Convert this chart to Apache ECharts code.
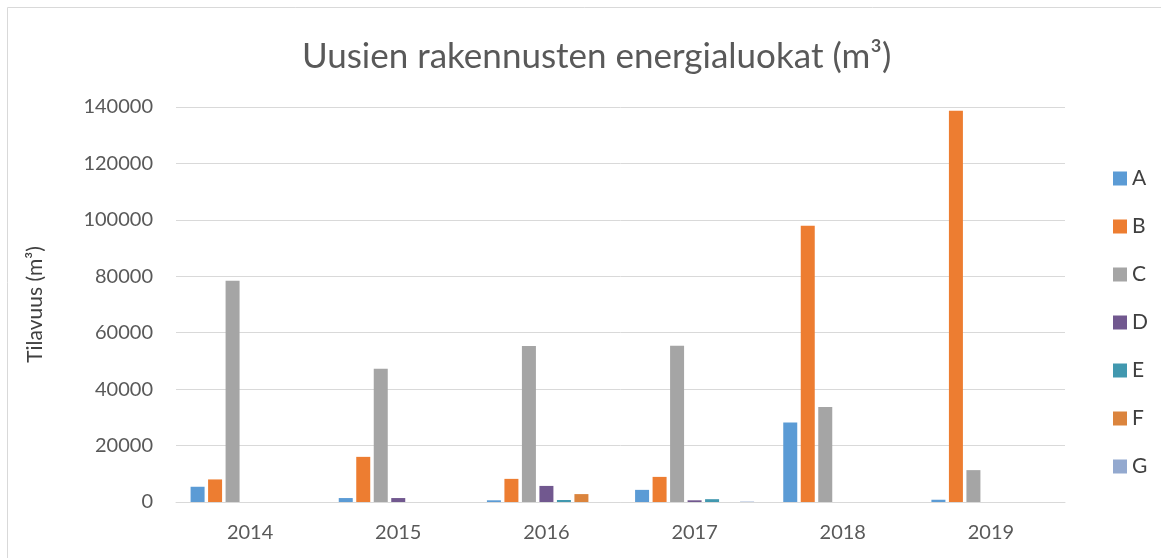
<!DOCTYPE html>
<html>
<head>
<meta charset="utf-8">
<script src="https://cdn.jsdelivr.net/npm/echarts@6/dist/echarts.min.js"></script>
<style>
  html, body { margin: 0; padding: 0; background: #fff; }
  #myChart { width: 1161px; height: 558px; }
</style>
</head>
<body>
<div id="myChart"></div>
<script>
const years = ['2014', '2015', '2016', '2017', '2018', '2019']
const classNames = ['A', 'B', 'C', 'D', 'E', 'F', 'G']
const seriesA = [5400, 1400, 600, 4300, 28200, 800]
const seriesB = [8000, 16000, 8200, 8900, 97900, 138700]
const seriesC = [78400, 47200, 55300, 55400, 33700, 11300]
const seriesD = [0, 1400, 5700, 600, 0, 0]
const seriesE = [0, 0, 700, 1000, 0, 0]
const seriesF = [0, 0, 2800, 0, 0, 0]
const seriesG = [0, 0, 0, 150, 0, 0]
const yTicks = [0, 20000, 40000, 60000, 80000, 100000, 120000, 140000]

const allValues = [seriesA, seriesB, seriesC, seriesD, seriesE, seriesF, seriesG]
const colors = ['#5B9BD5', '#ED7D31', '#A5A5A5', '#71588F', '#4198AF', '#DB843D', '#93A9CF']
const font = 'Lato, "Open Sans", sans-serif'

let myChart = echarts.init(document.getElementById('myChart'))
myChart.setOption({
  animation: false,
  title: {
    text: 'Uusien rakennusten energialuokat (m³)',
    left: 297,
    top: 34,
    textStyle: { fontFamily: font, fontWeight: 'normal', fontSize: 35, color: '#595959' }
  },
  graphic: [
    { type: 'line', shape: { x1: 7.5, y1: 7.5, x2: 1161, y2: 7.5 }, style: { stroke: '#d9d9d9', lineWidth: 1 } },
    { type: 'line', shape: { x1: 7.5, y1: 7.5, x2: 7.5, y2: 558 }, style: { stroke: '#d9d9d9', lineWidth: 1 } }
  ],
  legend: {
    orient: 'vertical',
    left: 1108,
    top: 163,
    icon: 'rect',
    itemWidth: 14,
    itemHeight: 14,
    itemGap: 27,
    itemStyle: { borderWidth: 0 },
    textStyle: { fontFamily: font, fontSize: 21, color: '#404040' },
    data: classNames
  },
  grid: {
    left: 176,
    right: 96,
    top: 107,
    bottom: 56
  },
  xAxis: {
    type: 'category',
    data: years,
    axisTick: { show: false },
    axisLine: { lineStyle: { color: '#d9d9d9', width: 1 } },
    axisLabel: { margin: 21, fontFamily: font, fontSize: 20, color: '#595959' }
  },
  yAxis: {
    type: 'value',
    min: yTicks[0],
    max: yTicks[yTicks.length - 1],
    interval: yTicks[1] - yTicks[0],
    name: 'Tilavuus (m³)',
    nameLocation: 'middle',
    nameGap: 130,
    nameTextStyle: { fontFamily: font, fontSize: 21, color: '#404040' },
    axisLine: { show: false },
    axisTick: { show: false },
    axisLabel: {
      margin: 23,
      fontFamily: font,
      fontSize: 20,
      color: '#595959',
      formatter: function (v) { return String(v) }
    },
    splitLine: { lineStyle: { color: '#d9d9d9', width: 1 } }
  },
  series: classNames.map(function (name, i) {
    return {
      name: name,
      type: 'bar',
      data: allValues[i],
      barWidth: 14,
      barGap: '25%',
      itemStyle: { color: colors[i] }
    }
  })
})
</script>
</body>
</html>
